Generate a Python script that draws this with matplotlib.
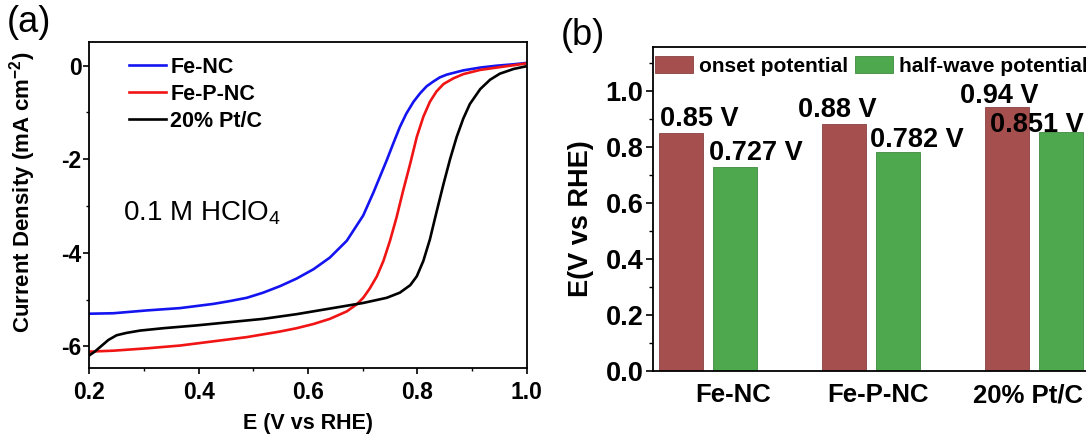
import numpy as np
import matplotlib
matplotlib.use("Agg")
import matplotlib.pyplot as plt
from matplotlib.ticker import MultipleLocator, FormatStrFormatter

plt.rcParams['font.family'] = ['Liberation Sans', 'DejaVu Sans']
plt.rcParams['mathtext.fontset'] = 'custom'
plt.rcParams['mathtext.rm'] = 'Liberation Sans'
plt.rcParams['mathtext.bf'] = 'Liberation Sans:bold'
plt.rcParams['mathtext.it'] = 'Liberation Sans:italic'
plt.rcParams['axes.unicode_minus'] = False

# ---------------- data: panel (a) LSV curves ----------------
fe_nc_E = [0.200, 0.244, 0.305, 0.366, 0.427, 0.457, 0.488, 0.518, 0.549, 0.579,
           0.610, 0.640, 0.671, 0.701, 0.720, 0.732, 0.744, 0.756, 0.768, 0.780,
           0.793, 0.805, 0.817, 0.829, 0.841, 0.854, 0.884, 0.915, 0.945, 0.976, 1.000]
fe_nc_j = [-5.30, -5.29, -5.23, -5.18, -5.09, -5.03, -4.96, -4.85, -4.71, -4.55,
           -4.35, -4.10, -3.74, -3.20, -2.70, -2.36, -2.02, -1.66, -1.31, -1.02,
           -0.77, -0.59, -0.44, -0.34, -0.25, -0.19, -0.10, -0.04, 0.00, 0.03, 0.06]

fe_p_nc_E = [0.200, 0.244, 0.305, 0.366, 0.427, 0.488, 0.549, 0.579, 0.610, 0.640,
             0.671, 0.689, 0.701, 0.713, 0.726, 0.738, 0.750, 0.762, 0.774, 0.787,
             0.799, 0.811, 0.823, 0.835, 0.848, 0.866, 0.884, 0.915, 0.945, 0.976, 1.000]
fe_p_nc_j = [-6.11, -6.09, -6.04, -5.98, -5.89, -5.80, -5.68, -5.61, -5.52, -5.41,
             -5.25, -5.10, -4.96, -4.76, -4.50, -4.17, -3.74, -3.24, -2.67, -2.09,
             -1.52, -1.09, -0.77, -0.55, -0.39, -0.27, -0.18, -0.09, -0.04, 0.01, 0.05]

ptc_E = [0.200, 0.210, 0.223, 0.235, 0.250, 0.268, 0.293, 0.335, 0.396, 0.457,
         0.518, 0.579, 0.640, 0.701, 0.744, 0.768, 0.787, 0.799, 0.811, 0.823,
         0.835, 0.848, 0.860, 0.872, 0.884, 0.896, 0.915, 0.933, 0.951, 0.976, 1.000]
ptc_j = [-6.19, -6.11, -5.98, -5.86, -5.76, -5.71, -5.66, -5.61, -5.55, -5.48,
         -5.41, -5.31, -5.19, -5.07, -4.96, -4.85, -4.69, -4.50, -4.17, -3.71,
         -3.13, -2.52, -1.99, -1.52, -1.13, -0.82, -0.50, -0.30, -0.17, -0.07, -0.01]

curve_labels = ['Fe-NC', 'Fe-P-NC', '20% Pt/C']

# ---------------- data: panel (b) bars ----------------
categories = ['Fe-NC', 'Fe-P-NC', '20% Pt/C']
onset = [0.85, 0.88, 0.94]
half_wave = [0.727, 0.782, 0.851]
onset_text = ['0.85 V', '0.88 V', '0.94 V']
half_text = ['0.727 V', '0.782 V', '0.851 V']

W, H = 1086, 436
fig = plt.figure(figsize=(W / 100, H / 100), dpi=100)

def ax_rect(l, t, r, b):
    return [l / W, 1 - b / H, (r - l) / W, (b - t) / H]

# ---------------- panel (a) ----------------
ax1 = fig.add_axes(ax_rect(89.3, 42.3, 526.7, 368))
ax1.plot(fe_nc_E, fe_nc_j, color='#1414F0', lw=1.9, label=curve_labels[0])
ax1.plot(fe_p_nc_E, fe_p_nc_j, color='#F01414', lw=1.9, label=curve_labels[1])
ax1.plot(ptc_E, ptc_j, color='black', lw=1.9, label=curve_labels[2])
ax1.set_xlim(0.2, 1.0)
ax1.set_ylim(-6.46, 0.5)
ax1.xaxis.set_major_locator(MultipleLocator(0.2))
ax1.xaxis.set_minor_locator(MultipleLocator(0.1))
ax1.yaxis.set_major_locator(MultipleLocator(2))
ax1.yaxis.set_minor_locator(MultipleLocator(1))
ax1.xaxis.set_major_formatter(FormatStrFormatter('%.1f'))
ax1.tick_params(axis='both', which='major', direction='out', length=4, width=1.2,
                labelsize=16.5)
ax1.tick_params(axis='both', which='minor', direction='out', length=2.5, width=1.0)
ax1.tick_params(axis='y', which='major', pad=1.5)
ax1.tick_params(axis='x', which='major', pad=5)
for lab in ax1.get_xticklabels() + ax1.get_yticklabels():
    lab.set_fontweight('bold')
for s in ax1.spines.values():
    s.set_linewidth(1.3)
ax1.set_xlabel('E (V vs RHE)', fontsize=15.5, fontweight='bold', va='top')
ax1.xaxis.set_label_coords(0.5, -0.138)
ax1.set_ylabel(r'Current Density (mA cm$^{\mathbf{-2}}$)', fontsize=16, fontweight='bold')
ax1.yaxis.set_label_coords(-0.117, 0.54)
ax1.legend(loc='upper left', bbox_to_anchor=(0.091, 0.955), frameon=False,
           prop={'size': 15.5, 'weight': 'bold'}, borderpad=0, borderaxespad=0,
           handlelength=1.72, handletextpad=0.2, labelspacing=0.28)
fig.text(123.3 / W, 1 - 220 / H, r'0.1 M HClO$_4$', fontsize=20, ha='left', va='baseline')

# ---------------- panel (b) ----------------
ax2 = fig.add_axes(ax_rect(653, 47, 1089, 370.7))
x = np.arange(len(categories))
bw = 0.27
off = 0.166
red_c = '#A64F4F'
green_c = '#4EA84E'
ax2.bar(x - off, onset, bw, color=red_c, edgecolor='#8A4040', lw=0.6,
        label='onset potential')
ax2.bar(x + off, half_wave, bw, color=green_c, edgecolor='#3E8A3E', lw=0.6,
        label='half-wave potential')
ax2.set_xlim(-0.34, 2.34)
ax2.set_ylim(0, 1.156)

on_dx = [18, -7, -7]
on_dy = [7, 7, 4]
hw_dx = [21, 19, -24]
hw_dy = [7, 5, 0]
for i in range(len(categories)):
    ax2.annotate(onset_text[i], xy=(x[i] - off, onset[i]), xytext=(on_dx[i], on_dy[i]),
                 textcoords='offset pixels', ha='center', va='baseline',
                 fontsize=19.5, fontweight='bold')
    ax2.annotate(half_text[i], xy=(x[i] + off, half_wave[i]), xytext=(hw_dx[i], hw_dy[i]),
                 textcoords='offset pixels', ha='center', va='baseline',
                 fontsize=19.5, fontweight='bold')

label_shift = [0.15, 0.04, -0.037]
ax2.set_xticks([x[i] + label_shift[i] for i in range(len(categories))])
ax2.set_xticklabels(categories, fontsize=18.5, fontweight='bold')
ax2.tick_params(axis='x', length=0, pad=9)
ax2.yaxis.set_major_locator(MultipleLocator(0.2))
ax2.yaxis.set_minor_locator(MultipleLocator(0.1))
ax2.yaxis.set_major_formatter(FormatStrFormatter('%.1f'))
ax2.tick_params(axis='y', which='major', direction='out', length=5, width=1.2,
                labelsize=19.5, pad=2)
ax2.tick_params(axis='y', which='minor', direction='out', length=3, width=1.0)
for lab in ax2.get_yticklabels():
    lab.set_fontweight('bold')
for s in ax2.spines.values():
    s.set_linewidth(1.3)
ax2.set_ylabel('E(V vs RHE)', fontsize=19.5, fontweight='bold')
ax2.yaxis.set_label_coords(-0.135, 0.47)
ax2.legend(loc='upper left', bbox_to_anchor=(0.005, 0.972), frameon=False, ncol=2,
           prop={'size': 15, 'weight': 'bold'}, borderpad=0, borderaxespad=0,
           handlelength=1.82, handleheight=0.87, handletextpad=0.29, columnspacing=0.34)

fig.text(7 / W, 1 - 5 / H, '(a)', fontsize=26, ha='left', va='top')
fig.text(561 / W, 1 - 18 / H, '(b)', fontsize=26, ha='left', va='top')

fig.savefig('out.png', dpi=100)
